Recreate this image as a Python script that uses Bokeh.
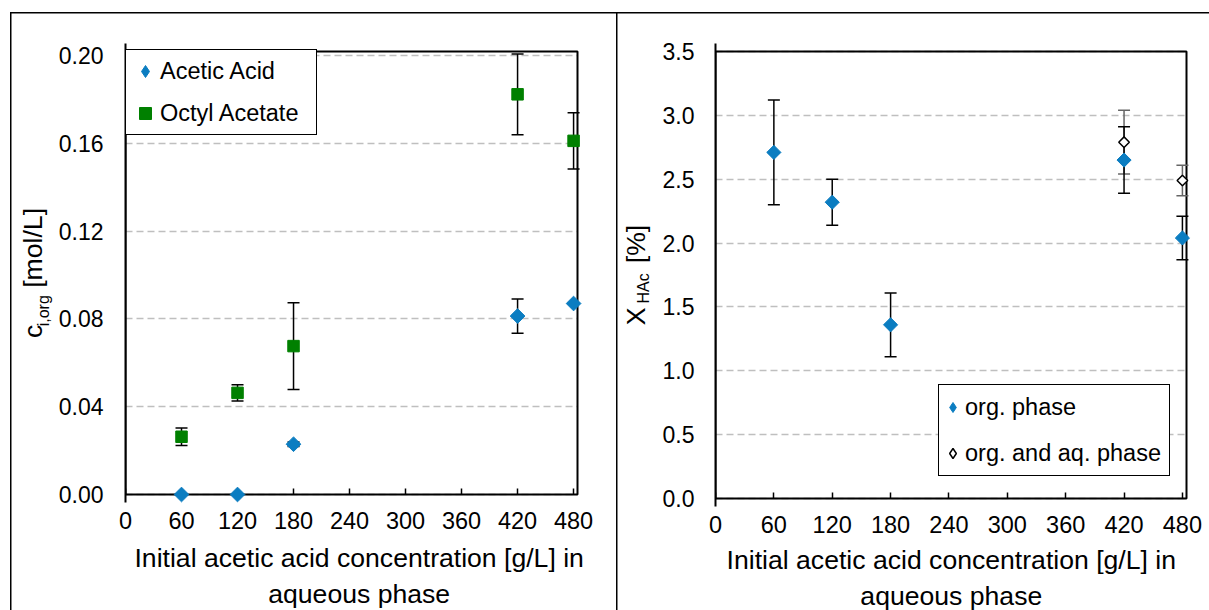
import math
from bokeh.plotting import figure
from bokeh.models import (ColumnDataSource, Whisker, TeeHead, FixedTicker, PrintfTickFormatter,
                          Legend, LegendItem, BoxAnnotation, Range1d, LinearAxis)
from bokeh.layouts import row
from bokeh.embed import file_html
from bokeh.resources import INLINE

# ---------------- data ----------------
x_conc = [60, 120, 180, 420, 480]
acetic_acid = [0.0, 0.0, 0.0229, 0.0813, 0.0870]
acetic_acid_err = [0.0, 0.0, 0.0010, 0.0078, 0.0]
octyl_acetate = [0.0263, 0.0463, 0.0676, 0.1823, 0.1611]
octyl_acetate_err = [0.0040, 0.0037, 0.0198, 0.0184, 0.0128]

x_org = [60, 120, 180, 420, 480]
conv_org = [2.71, 2.32, 1.36, 2.65, 2.04]
conv_org_err = [0.41, 0.18, 0.25, 0.26, 0.17]
x_total = [420, 480]
conv_total = [2.79, 2.49]
conv_total_err = [0.25, 0.12]

x_ticks = [0, 60, 120, 180, 240, 300, 360, 420, 480]
left_y_ticks = [0.0, 0.04, 0.08, 0.12, 0.16, 0.20]
right_y_ticks = [0.0, 0.5, 1.0, 1.5, 2.0, 2.5, 3.0, 3.5]

NB = "\u00a0"
x_title_left = NB + "Initial acetic acid concentration [g/L] in\n" + NB + "aqueous phase"
x_title_right = "Initial acetic acid concentration [g/L] in" + NB + "\naqueous phase" + NB
left_y_main = "c" + NB * 5 + "[mol/L]"
left_y_sub = "i,org" + NB * 17
right_y_main = "X" + NB * 6 + "[%]"
right_y_sub = "HAc" + NB * 6

BLUE = "#0B7DC1"
GREEN = "#008000"
FONT = "Liberation Sans"
TITLE_SIZE = "26.6px"
PAD = 8


def make_fig(b_left, data_w, data_h, b_top, total_w, total_h, xmax, ymax,
             yticks, yfmt, ytick_standoff, xtitle, xtitle_standoff,
             ysub, sub_standoff, ymain, main_standoff):
    fw, fh = data_w + PAD, data_h + 2 * PAD
    px_x, px_y = xmax / data_w, ymax / data_h
    p = figure(frame_width=fw, frame_height=fh,
               min_border_left=b_left, min_border_right=total_w - b_left - fw,
               min_border_top=b_top, min_border_bottom=total_h - b_top - fh,
               x_range=Range1d(0, xmax + PAD * px_x),
               y_range=Range1d(-PAD * px_y, ymax + PAD * px_y),
               output_backend="svg", toolbar_location=None)
    p.background_fill_color = "white"
    p.border_fill_alpha = 0
    p.outline_line_color = None

    # plot-area frame
    p.add_layout(BoxAnnotation(left=0, right=xmax, bottom=0, top=ymax, level="underlay",
                               fill_alpha=0, fill_color=None,
                               line_color="black", line_alpha=1.0, line_width=2))

    # x axis: labels and title (axis itself sits at the padded frame edge)
    xa = p.xaxis[0]
    xa.ticker = FixedTicker(ticks=x_ticks)
    xa.axis_line_color = None
    xa.major_tick_line_color = None
    xa.major_tick_in = 0
    xa.major_tick_out = 0
    xa.minor_tick_line_color = None
    xa.minor_tick_in = 0
    xa.minor_tick_out = 0
    xa.major_label_standoff = 9
    xa.major_label_text_font = FONT
    xa.major_label_text_font_size = "23.5px"
    xa.major_label_text_color = "black"
    xa.axis_label = xtitle
    xa.axis_label_text_font = FONT
    xa.axis_label_text_font_size = TITLE_SIZE
    xa.axis_label_text_font_style = "normal"
    xa.axis_label_text_color = "black"
    xa.axis_label_text_line_height = 1.22
    xa.axis_label_standoff = xtitle_standoff

    # inward tick marks at y = 0
    tick_axis = LinearAxis(fixed_location=0, ticker=FixedTicker(ticks=x_ticks),
                           axis_line_color=None, major_tick_in=6, major_tick_out=0,
                           major_tick_line_color="black", major_tick_line_width=1.5,
                           minor_tick_line_color=None, minor_tick_in=0, minor_tick_out=0,
                           major_label_text_font_size="0px", major_label_text_color=None,
                           major_label_standoff=0)
    p.add_layout(tick_axis, "below")

    ya = p.yaxis[0]
    ya.ticker = FixedTicker(ticks=yticks)
    ya.formatter = PrintfTickFormatter(format=yfmt)
    ya.axis_line_color = "black"
    ya.axis_line_width = 2
    ya.major_tick_in = 0
    ya.major_tick_out = 0
    ya.major_tick_line_color = None
    ya.minor_tick_line_color = None
    ya.minor_tick_in = 0
    ya.minor_tick_out = 0
    ya.major_label_standoff = ytick_standoff
    ya.major_label_text_font = FONT
    ya.major_label_text_font_size = "23px"
    ya.major_label_text_color = "black"
    ya.axis_label = ysub
    ya.axis_label_text_font = FONT
    ya.axis_label_text_font_size = "16px"
    ya.axis_label_text_font_style = "normal"
    ya.axis_label_text_color = "black"
    ya.axis_label_standoff = sub_standoff

    extra = LinearAxis(ticker=FixedTicker(ticks=yticks), axis_line_color=None,
                       major_tick_in=0, major_tick_out=0, minor_tick_in=0, minor_tick_out=0,
                       major_tick_line_color=None, minor_tick_line_color=None,
                       major_label_text_font_size="0px", major_label_standoff=0,
                       major_label_text_color=None,
                       axis_label=ymain, axis_label_text_font=FONT,
                       axis_label_text_font_size=TITLE_SIZE, axis_label_text_font_style="normal",
                       axis_label_text_color="black", axis_label_standoff=main_standoff)
    p.add_layout(extra, "left")

    p.xgrid.visible = False
    g = p.ygrid[0]
    g.ticker = FixedTicker(ticks=yticks)
    g.grid_line_color = "#BFBFBF"
    g.grid_line_dash = "7 4"
    g.grid_line_width = 1.5
    if "cross_bounds" in g.properties():
        g.cross_bounds = (0, xmax)
    return p


def whisker(p, xs, ys, es, color):
    src = ColumnDataSource(dict(x=xs,
                                upper=[y + e for y, e in zip(ys, es)],
                                lower=[y - e for y, e in zip(ys, es)]))
    w = Whisker(source=src, base="x", upper="upper", lower="lower",
                line_color=color, line_width=1.5,
                upper_head=TeeHead(size=12, line_color=color, line_width=1.5),
                lower_head=TeeHead(size=12, line_color=color, line_width=1.5))
    p.add_layout(w)


def legend(p, items, loc, padding, spacing, gw, gh, lw):
    lg = Legend(items=items, location=loc, margin=0, padding=padding, spacing=spacing,
                glyph_width=gw, glyph_height=gh, label_height=gh, label_width=lw,
                label_standoff=0, label_text_font=FONT, label_text_font_size="23.5px",
                label_text_color="black",
                border_line_color="black", border_line_width=1.5, border_line_alpha=1.0,
                background_fill_color="white", background_fill_alpha=1.0)
    p.add_layout(lg)


NAN = [float("nan")]

# ---------------- left chart ----------------
p1 = make_fig(125, 452, 443, 43, 617, 610, 484.2, 0.2018, left_y_ticks, "%.2f", 22,
              x_title_left, 11, left_y_sub, 4, left_y_main, -16)

whisker(p1, x_conc, octyl_acetate, octyl_acetate_err, "black")
whisker(p1, x_conc, acetic_acid, acetic_acid_err, "black")
r_oa = p1.scatter(x=x_conc, y=octyl_acetate, marker="square", size=11.5,
                  fill_color=GREEN, line_color=GREEN, level="overlay")
r_aa = p1.scatter(x=x_conc, y=acetic_acid, marker="square", angle=math.pi / 4, size=10.4,
                  fill_color=BLUE, line_color=BLUE, level="overlay")
leg_aa = p1.scatter(x=NAN, y=NAN, marker="diamond", fill_color=BLUE, line_color=BLUE)

legend(p1, [LegendItem(label="Acetic Acid", renderers=[leg_aa]),
            LegendItem(label="Octyl Acetate", renderers=[r_oa])],
       (0, 367), 4, 8, 30, 34, 152)

# ---------------- right chart ----------------
p2 = make_fig(96, 471, 447, 43, 592, 610, 484.2, 3.5, right_y_ticks, "%.1f", 21,
              x_title_right, 9, right_y_sub, 8, right_y_main, -19)

whisker(p2, x_total, conv_total, conv_total_err, "#666666")
whisker(p2, x_org, conv_org, conv_org_err, "black")
r_org = p2.scatter(x=x_org, y=conv_org, marker="square", angle=math.pi / 4, size=10.0,
                   fill_color=BLUE, line_color=BLUE, level="overlay")
r_tot = p2.scatter(x=x_total, y=conv_total, marker="square", angle=math.pi / 4, size=7.5,
                   fill_color="white", line_color="black", line_width=1.5, level="overlay")
leg_org = p2.scatter(x=NAN, y=NAN, marker="diamond", fill_color=BLUE, line_color=BLUE)
leg_tot = p2.scatter(x=NAN, y=NAN, marker="diamond", fill_color="white", line_color="black",
                     line_width=1.5)

legend(p2, [LegendItem(label="org. phase", renderers=[leg_org]),
            LegendItem(label="org. and aq. phase", renderers=[leg_tot])],
       (223, 30), 1, 4, 25, 42, 203)

layout = row(p1, p2, styles={
    "background-color": "white",
    "background-image": "linear-gradient(#000,#000), linear-gradient(#000,#000), linear-gradient(#000,#000)",
    "background-size": "1.5px 600px, 1199px 1.5px, 1.5px 600px",
    "background-position": "10px 11.5px, 10px 11.5px, 615.5px 11.5px",
    "background-repeat": "no-repeat",
    "max-height": "610px",
    "overflow": "hidden",
})
open("out.html", "w").write(file_html(layout, INLINE))
